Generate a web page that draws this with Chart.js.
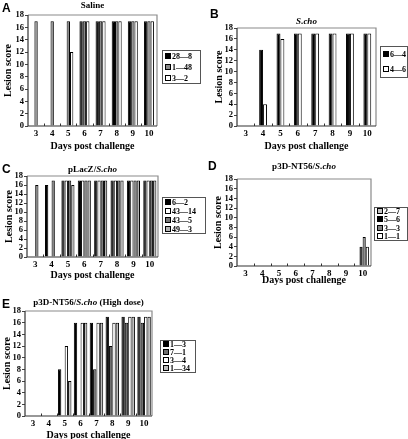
<!DOCTYPE html>
<html>
<head>
<meta charset="utf-8">
<script src="https://cdn.jsdelivr.net/npm/chart.js@4.4.1/dist/chart.umd.min.js"></script>
<style>
  body { margin: 0; width: 408px; height: 439px; position: relative; overflow: hidden; background: #fff; }
  canvas { position: absolute; }
  .letter { position: absolute; font: bold 12px "Liberation Sans", Arial, sans-serif; line-height: 12px; }
</style>
</head>
<body>
<canvas id="chartA"></canvas>
<canvas id="chartB"></canvas>
<canvas id="chartC"></canvas>
<canvas id="chartD"></canvas>
<canvas id="chartE"></canvas>
<div class="letter" style="left:2px;top:2px">A</div>
<div class="letter" style="left:210px;top:8px">B</div>
<div class="letter" style="left:2px;top:163px">C</div>
<div class="letter" style="left:208px;top:160px">D</div>
<div class="letter" style="left:2px;top:298px">E</div>
<script>
// shared x categories
var days = ['3', '4', '5', '6', '7', '8', '9', '10'];

// A - Saline
var salineNames = ['28\u20148', '1\u201448', '3\u20142'];
var saline28_8 = [0, 0, 0, 17, 17, 17, 17, 17];
var saline1_48 = [17, 17, 17, 17, 17, 17, 17, 17];
var saline3_2 = [0, 0, 12, 17, 17, 17, 17, 17];

// B - S.cho
var schoNames = ['6\u20144', '4\u20146'];
var scho6_4 = [0, 14, 17, 17, 17, 17, 17, 17];
var scho4_6 = [0, 4, 16, 17, 17, 17, 17, 17];

// C - pLacZ/S.cho
var lacNames = ['6\u20142', '43\u201414', '43\u20145', '49\u20143'];
var lac6_2 = [0, 16, 17, 17, 17, 17, 17, 17];
var lac43_14 = [0, 0, 17, 17, 17, 17, 17, 17];
var lac43_5 = [16, 17, 17, 17, 17, 17, 17, 17];
var lac49_3 = [0, 0, 16, 17, 17, 17, 17, 17];

// D - p3D-NT56/S.cho
var ntNames = ['2\u20147', '5\u20146', '3\u20143', '1\u20141'];
var nt2_7 = [0, 0, 0, 0, 0, 0, 0, 0];
var nt5_6 = [0, 0, 0, 0, 0, 0, 0, 4];
var nt3_3 = [0, 0, 0, 0, 0, 0, 0, 6];
var nt1_1 = [0, 0, 0, 0, 0, 0, 0, 4];

// E - p3D-NT56/S.cho (High dose)
var highNames = ['1\u20143', '7\u20141', '3\u20144', '1\u201434'];
var high1_3 = [0, 0, 8, 16, 16, 17, 17, 17];
var high7_1 = [0, 0, 0, 0, 8, 12, 16, 16];
var high3_4 = [0, 0, 12, 16, 16, 16, 17, 17];
var high1_34 = [0, 0, 6, 16, 16, 16, 17, 17];

var serif = '"Liberation Serif", "Times New Roman", serif';

// title with mixed upright / italic parts, centred over the plot
var richTitle = {
  id: 'richTitle',
  afterDraw: function (chart, args, opts) {
    var ctx = chart.ctx, area = chart.chartArea;
    ctx.save();
    ctx.textBaseline = 'middle';
    ctx.fillStyle = '#000';
    var fnt = function (p) { return (p.italic ? 'italic ' : '') + 'bold 9px ' + serif; };
    var w = 0;
    opts.parts.forEach(function (p) { ctx.font = fnt(p); w += ctx.measureText(p.text).width; });
    var x = (area.left + area.right) / 2 - w / 2;
    opts.parts.forEach(function (p) {
      ctx.font = fnt(p);
      ctx.fillText(p.text, x, opts.y);
      x += ctx.measureText(p.text).width;
    });
    ctx.restore();
  }
};

// boxed legend to the right of the plot, built from the datasets
var boxLegend = {
  id: 'boxLegend',
  afterDraw: function (chart, args, opts) {
    var ctx = chart.ctx, sets = chart.data.datasets, n = sets.length;
    ctx.save();
    ctx.lineWidth = 1;
    ctx.strokeStyle = '#555';
    ctx.strokeRect(opts.x + 0.5, opts.y + 0.5, opts.w - 1, opts.h);
    ctx.font = 'bold 8px ' + serif;
    ctx.textBaseline = 'middle';
    sets.forEach(function (ds, i) {
      var cy = Math.round(opts.y + opts.h * (i + 0.5) / n);
      ctx.fillStyle = ds.backgroundColor;
      ctx.fillRect(opts.x + 3, cy - 3, 5, 5);
      ctx.strokeStyle = '#000';
      ctx.strokeRect(opts.x + 3.5, cy - 2.5, 5, 5);
      ctx.fillStyle = '#000';
      ctx.fillText(ds.label, opts.x + 10, cy + 0.5);
    });
    ctx.restore();
  }
};

// plot frame + small inner ticks between day groups
var frame = {
  id: 'frame',
  afterDatasetsDraw: function (chart) {
    var ctx = chart.ctx, a = chart.chartArea, xs = chart.scales.x;
    ctx.save();
    ctx.lineWidth = 1.2;
    ctx.strokeStyle = '#8a8a8a';
    ctx.beginPath();
    ctx.moveTo(a.left, a.top); ctx.lineTo(a.right, a.top); ctx.lineTo(a.right, a.bottom);
    ctx.stroke();
    ctx.strokeStyle = '#333';
    ctx.beginPath();
    ctx.moveTo(a.left, a.top); ctx.lineTo(a.left, a.bottom); ctx.lineTo(a.right, a.bottom);
    ctx.stroke();
    ctx.lineWidth = 1;
    ctx.beginPath();
    for (var i = 0; i < days.length - 1; i++) {
      var x = Math.round((xs.getPixelForValue(i) + xs.getPixelForValue(i + 1)) / 2) + 0.5;
      ctx.moveTo(x, a.bottom); ctx.lineTo(x, a.bottom - 2.5);
    }
    ctx.stroke();
    ctx.restore();
  }
};

function makePanel(id, g, leg, titleParts, names, series, colors, catPct) {
  var cl = g.ytitleX - 6;
  var ct = g.titleY - 8;
  var right = Math.max(g.plotR + 2, leg.x + leg.w);
  var cv = document.getElementById(id);
  cv.width = right - cl;
  cv.height = g.xtitleY + 6 - ct;
  cv.style.left = cl + 'px';
  cv.style.top = ct + 'px';

  var datasets = series.map(function (d, i) {
    return {
      label: names[i],
      data: d,
      backgroundColor: colors[i],
      borderColor: '#000',
      borderWidth: 1,
      borderSkipped: 'bottom',
      barPercentage: 1,
      categoryPercentage: catPct
    };
  });

  new Chart(cv, {
    type: 'bar',
    data: { labels: days, datasets: datasets },
    options: {
      responsive: false,
      animation: false,
      layout: { padding: { top: g.plotT - ct, right: right - g.plotR, left: 0, bottom: 0 } },
      plugins: {
        legend: { display: false },
        tooltip: { enabled: false },
        richTitle: { parts: titleParts, y: g.titleY - ct },
        boxLegend: { x: leg.x - cl, y: leg.y - ct, w: leg.w, h: leg.h }
      },
      scales: {
        x: {
          grid: { display: false, drawTicks: false },
          border: { display: false },
          ticks: { color: '#000', padding: 2, font: { family: serif, size: 9, weight: 'bold' } },
          title: { display: true, text: 'Days post challenge', color: '#000', padding: 0,
                   font: { family: serif, size: 10, weight: 'bold' } },
          afterFit: function (s) { s.height = g.xtitleY + 6 - g.plotB; }
        },
        y: {
          min: 0, max: 18,
          grid: { drawOnChartArea: false, tickLength: 3, color: '#444' },
          border: { display: false },
          ticks: { stepSize: 2, autoSkip: false, color: '#000', padding: 1,
                   font: { family: serif, size: 8.5, weight: 'bold' } },
          title: { display: true, text: 'Lesion score', color: '#000', padding: 0,
                   font: { family: serif, size: 10, weight: 'bold' } },
          afterFit: function (s) { s.width = g.plotL - cl; }
        }
      }
    },
    plugins: [richTitle, frame, boxLegend]
  });
}

makePanel('chartA',
  { plotL: 28, plotR: 157, plotT: 15, plotB: 126, titleY: 6, xtitleY: 146, ytitleX: 8 },
  { x: 162, y: 50, w: 39, h: 33 },
  [{ text: 'Saline' }], salineNames, [saline28_8, saline1_48, saline3_2],
  ['#000', '#8a8a8a', '#fff'], 0.62);

makePanel('chartB',
  { plotL: 237, plotR: 376, plotT: 28, plotB: 126, titleY: 22, xtitleY: 146, ytitleX: 219 },
  { x: 380, y: 46, w: 28, h: 31 },
  [{ text: 'S.cho', italic: true }], schoNames, [scho6_4, scho4_6],
  ['#000', '#fff'], 0.45);

makePanel('chartC',
  { plotL: 27, plotR: 158, plotT: 176, plotB: 257, titleY: 170, xtitleY: 275, ytitleX: 9 },
  { x: 162, y: 197, w: 44, h: 36 },
  [{ text: 'pLacZ/' }, { text: 'S.cho', italic: true }], lacNames, [lac6_2, lac43_14, lac43_5, lac49_3],
  ['#000', '#fff', '#777', '#b4b4b4'], 0.8);

makePanel('chartD',
  { plotL: 237, plotR: 371, plotT: 179, plotB: 266, titleY: 167, xtitleY: 280, ytitleX: 218 },
  { x: 374, y: 207, w: 34, h: 33 },
  [{ text: 'p3D-NT56/' }, { text: 'S.cho', italic: true }], ntNames, [nt2_7, nt5_6, nt3_3, nt1_1],
  ['#c4c4c4', '#000', '#808080', '#fff'], 0.75);

makePanel('chartE',
  { plotL: 25, plotR: 152, plotT: 311, plotB: 416, titleY: 303, xtitleY: 435, ytitleX: 7 },
  { x: 160, y: 340, w: 36, h: 32 },
  [{ text: 'p3D-NT56/' }, { text: 'S.cho', italic: true }, { text: ' (High dose)' }], highNames,
  [high1_3, high7_1, high3_4, high1_34],
  ['#000', '#707070', '#fff', '#bdbdbd'], 0.85);
</script>
</body>
</html>
